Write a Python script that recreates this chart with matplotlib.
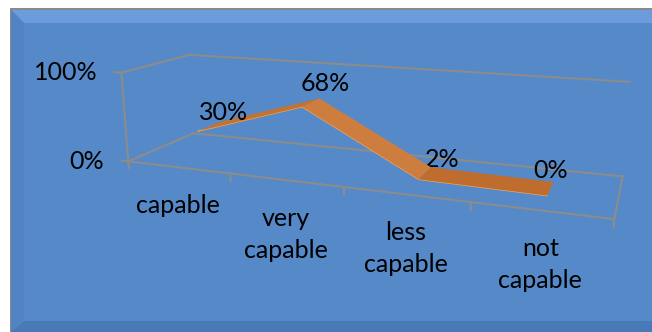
import numpy as np
import matplotlib
matplotlib.use('Agg')
import matplotlib.pyplot as plt
from matplotlib.patches import Polygon
from mpl_toolkits.mplot3d import proj3d
from mpl_toolkits.mplot3d.art3d import Poly3DCollection

categories = ['capable', 'very\ncapable', 'less\ncapable', 'not\ncapable']
shares = [30, 68, 2, 0]
value_ticks = [0, 100]

W, H = 652, 332
plt.rcParams['font.family'] = ['Lato', 'DejaVu Sans']
fig = plt.figure(figsize=(W / 100, H / 100), dpi=100)
ax = fig.add_axes([0.17088, -0.14186, 0.76327, 1.49896], projection='3d')
ax.patch.set_alpha(0)
ax.set_axis_off()

# camera fitted to the Excel 3-D box
ax.view_init(elev=13.93, azim=-69.38, roll=0.137)
ax.set_proj_type('persp', focal_length=0.2922)
ax.set_box_aspect((1, 0.2546, 0.1930))

def fx(x): return x / W
def fy(y): return 1 - y / H

# background panel with bevel
fig.patches.append(Polygon([(fx(10), fy(8)), (fx(W), fy(8)), (fx(W), fy(H)), (fx(10), fy(H))], closed=True, transform=fig.transFigure, facecolor='#8a8a8a', edgecolor='none', zorder=-10))
fig.patches.append(Polygon([(fx(11), fy(9.5)), (fx(W), fy(9.5)), (fx(W), fy(H)), (fx(11), fy(H))], closed=True, transform=fig.transFigure, facecolor='#5689c8', edgecolor='none', zorder=-9))
fig.patches.append(Polygon([(fx(11), fy(9.5)), (fx(W), fy(9.5)), (fx(W), fy(23)), (fx(24), fy(23))], closed=True, transform=fig.transFigure, facecolor='#6c9cdb', edgecolor='none', zorder=-8))
fig.patches.append(Polygon([(fx(11), fy(9.5)), (fx(24), fy(23)), (fx(24), fy(320)), (fx(11), fy(H))], closed=True, transform=fig.transFigure, facecolor='#5283c3', edgecolor='none', zorder=-8))
fig.patches.append(Polygon([(fx(11), fy(H)), (fx(24), fy(321)), (fx(W), fy(321)), (fx(W), fy(H))], closed=True, transform=fig.transFigure, facecolor='#4a79b8', edgecolor='none', zorder=-8))

n = len(categories)
grid_kw = dict(color='#8c8c8c', lw=1.5, clip_on=False)
for a, b in [((0,0,0),(0,0,1)), ((0,0,1),(0,1,1)), ((0,1,1),(n,1,1)), ((0,0,0),(0,1,0)),
             ((0,1,0),(n,1,0)), ((n,1,0),(n,0,0)), ((n,0,0),(0,0,0))]:
  ax.plot([a[0], b[0]], [a[1], b[1]], [a[2], b[2]], **grid_kw)
for i in range(n + 1):
  ax.plot([i, i], [0, 0], [0, -0.08], **grid_kw)
for v in value_ticks:
  ax.plot([-0.07, 0], [0, 0], [v / 100, v / 100], **grid_kw)

# the 3-D line drawn as a ribbon
y0, y1 = 0.33, 0.67
xc = np.arange(n) + 0.5
zv = np.array(shares) / 100
seg_colors = ['#c4722f', '#cd7e3e', '#be6d2e']
for i in range(n - 1):
  quad = [(xc[i], y0, zv[i]), (xc[i+1], y0, zv[i+1]), (xc[i+1], y1, zv[i+1]), (xc[i], y1, zv[i])]
  pc = Poly3DCollection([quad], facecolor=seg_colors[i], edgecolor='none')
  pc.set_clip_on(False)
  ax.add_collection3d(pc)
ax.plot(xc, [y0] * n, zv, color='#f7a35a', lw=1.0, clip_on=False)

ax.set_xlim(0, n); ax.set_ylim(0, 1); ax.set_zlim(0, 1)

M = ax.get_proj()
fs = 18
px = 0.72  # points per pixel
for i, lab in enumerate(categories):
  X, Y, _ = proj3d.proj_transform(xc[i], 0, 0, M)
  ax.annotate(lab, (X, Y), xycoords='data', xytext=(0, -27 * px), textcoords='offset points',
              ha='center', va='top', fontsize=fs, linespacing=1.45, annotation_clip=False)
for v in value_ticks:
  X, Y, _ = proj3d.proj_transform(0, 0, v / 100, M)
  ax.annotate('%d%%' % v, (X, Y), xycoords='data', xytext=(-24 * px, 0), textcoords='offset points',
              ha='right', va='center', fontsize=fs, annotation_clip=False)
lab_off = [(25, 19), (23, 23), (23, 20), (3, 25)]
for i, v in enumerate(shares):
  X, Y, _ = proj3d.proj_transform(xc[i], y0, zv[i], M)
  ax.annotate('%d%%' % v, (X, Y), xycoords='data', xytext=(lab_off[i][0] * px, lab_off[i][1] * px),
              textcoords='offset points', ha='center', va='center', fontsize=fs, annotation_clip=False)

fig.savefig('out.png', dpi=100)
